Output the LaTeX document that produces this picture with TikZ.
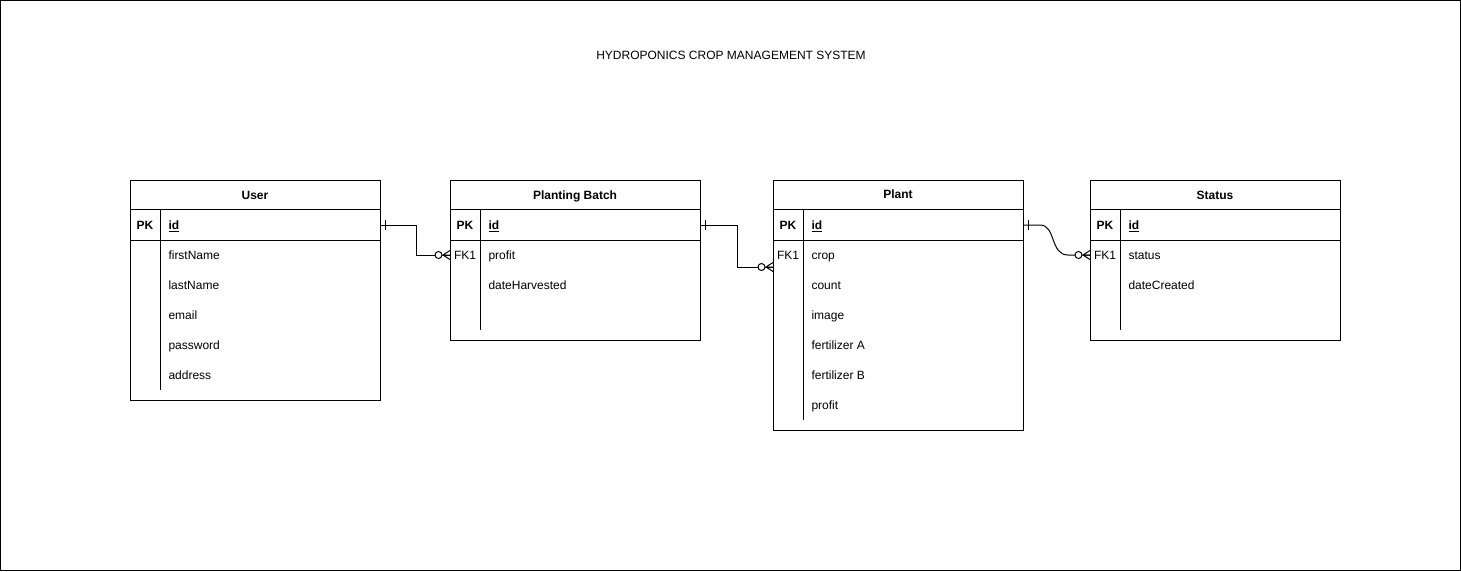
\documentclass[tikz,border=0pt]{standalone}
\usepackage{fontspec}
\setmainfont{Liberation Sans}
\begin{document}
\begin{tikzpicture}[x=1pt,y=-1pt,line width=1pt,
  tbl/.style={draw,inner sep=0,anchor=north west,minimum width=250pt},
  txt/.style={inner sep=0,text height=8.6pt,text depth=0pt},
  hdr/.style={txt,font=\bfseries\fontsize{12}{14}\selectfont},
  fld/.style={txt,anchor=west,font=\fontsize{12}{14}\selectfont},
  keyc/.style={txt,anchor=center,font=\fontsize{12}{14}\selectfont},
  rel/.style={draw,line width=1pt},
  zmany/.pic={\draw[line width=1pt] (-7,0)--(0,-4.5) (-7,0)--(0,0) (-7,0)--(0,4.5);
              \draw[line width=1pt,fill=white] (-11.5,0) circle (3.5pt);},
  onebar/.pic={\draw[line width=1pt] (4,-5)--(4,5);}]
\useasboundingbox (0,0) rectangle (1461,572);
\draw (0.5,0.5) rectangle (1460,570.5);
\node[txt,font=\fontsize{12}{14}\selectfont] (title) at (731,55) {HYDROPONICS CROP MANAGEMENT SYSTEM};

% ---------- User
\node[tbl,minimum height=220pt] (user) at (130,180) {};
\draw (130,210)--(380,210) (130,240)--(380,240) (160,210)--(160,390);
\node[hdr] (userh) at (255,195) {User};
\node[keyc,font=\bfseries\fontsize{12}{14}\selectfont] (userpk) at (145,225) {PK};
\node[fld,font=\bfseries\fontsize{12}{14}\selectfont] (uid) at (168,225) {\underline{id}};
\node[fld] (u1) at (168,255) {firstName};
\node[fld] (u2) at (168,285) {lastName};
\node[fld] (u3) at (168,315) {email};
\node[fld] (u4) at (168,345) {password};
\node[fld] (u5) at (168,375) {address};

% ---------- Planting Batch
\node[tbl,minimum height=160pt] (pb) at (450,180) {};
\draw (450,210)--(700,210) (450,240)--(700,240) (480,210)--(480,330);
\node[hdr] (pbh) at (575,195) {Planting Batch};
\node[keyc,font=\bfseries\fontsize{12}{14}\selectfont] (pbpk) at (465,225) {PK};
\node[fld,font=\bfseries\fontsize{12}{14}\selectfont] (pbid) at (488,225) {\underline{id}};
\node[keyc] (pbfk) at (465,255) {FK1};
\node[fld] (pb1) at (488,255) {profit};
\node[fld] (pb2) at (488,285) {dateHarvested};

% ---------- Plant
\node[tbl,minimum height=250pt] (plant) at (773,180) {};
\draw (773,210)--(1023,210) (773,240)--(1023,240) (803,210)--(803,420);
\node[hdr] (planth) at (898,194.5) {Plant};
\node[keyc,font=\bfseries\fontsize{12}{14}\selectfont] (plpk) at (788,225) {PK};
\node[fld,font=\bfseries\fontsize{12}{14}\selectfont] (plid) at (811,225) {\underline{id}};
\node[keyc] (plfk) at (788,255) {FK1};
\node[fld] (pl1) at (811,255) {crop};
\node[fld] (pl2) at (811,285) {count};
\node[fld] (pl3) at (811,315) {image};
\node[fld] (pl4) at (811,345) {fertilizer A};
\node[fld] (pl5) at (811,375) {fertilizer B};
\node[fld] (pl6) at (811,405) {profit};

% ---------- Status
\node[tbl,minimum height=160pt] (status) at (1090,180) {};
\draw (1090,210)--(1340,210) (1090,240)--(1340,240) (1120,210)--(1120,330);
\node[hdr] (sth) at (1215,195) {Status};
\node[keyc,font=\bfseries\fontsize{12}{14}\selectfont] (stpk) at (1105,225) {PK};
\node[fld,font=\bfseries\fontsize{12}{14}\selectfont] (stid) at (1128,225) {\underline{id}};
\node[keyc] (stfk) at (1105,255) {FK1};
\node[fld] (st1) at (1128,255) {status};
\node[fld] (st2) at (1128,285) {dateCreated};

% ---------- relations
\coordinate (r1a) at (user.east |- uid);
\coordinate (r1b) at (pb.west |- pb1);
\draw[rel] (r1a) -- (416,225) -- (416,255) -- (r1b);
\pic at (r1a) {onebar};
\pic at (r1b) {zmany};

\coordinate (r2a) at (pb.east |- pbid);
\coordinate (r2b) at (773,267);
\draw[rel] (r2a) -- (737,225) -- (737,267) -- (r2b);
\pic at (r2a) {onebar};
\pic at (r2b) {zmany};

\coordinate (r3a) at (plant.east |- plid);
\coordinate (r3b) at (status.west |- st1);
\draw[rel] (r3a) -- (1040,225) .. controls (1056,225) and (1050,255) .. (1068,255) -- (r3b);
\pic at (r3a) {onebar};
\pic at (r3b) {zmany};
\end{tikzpicture}
\end{document}
